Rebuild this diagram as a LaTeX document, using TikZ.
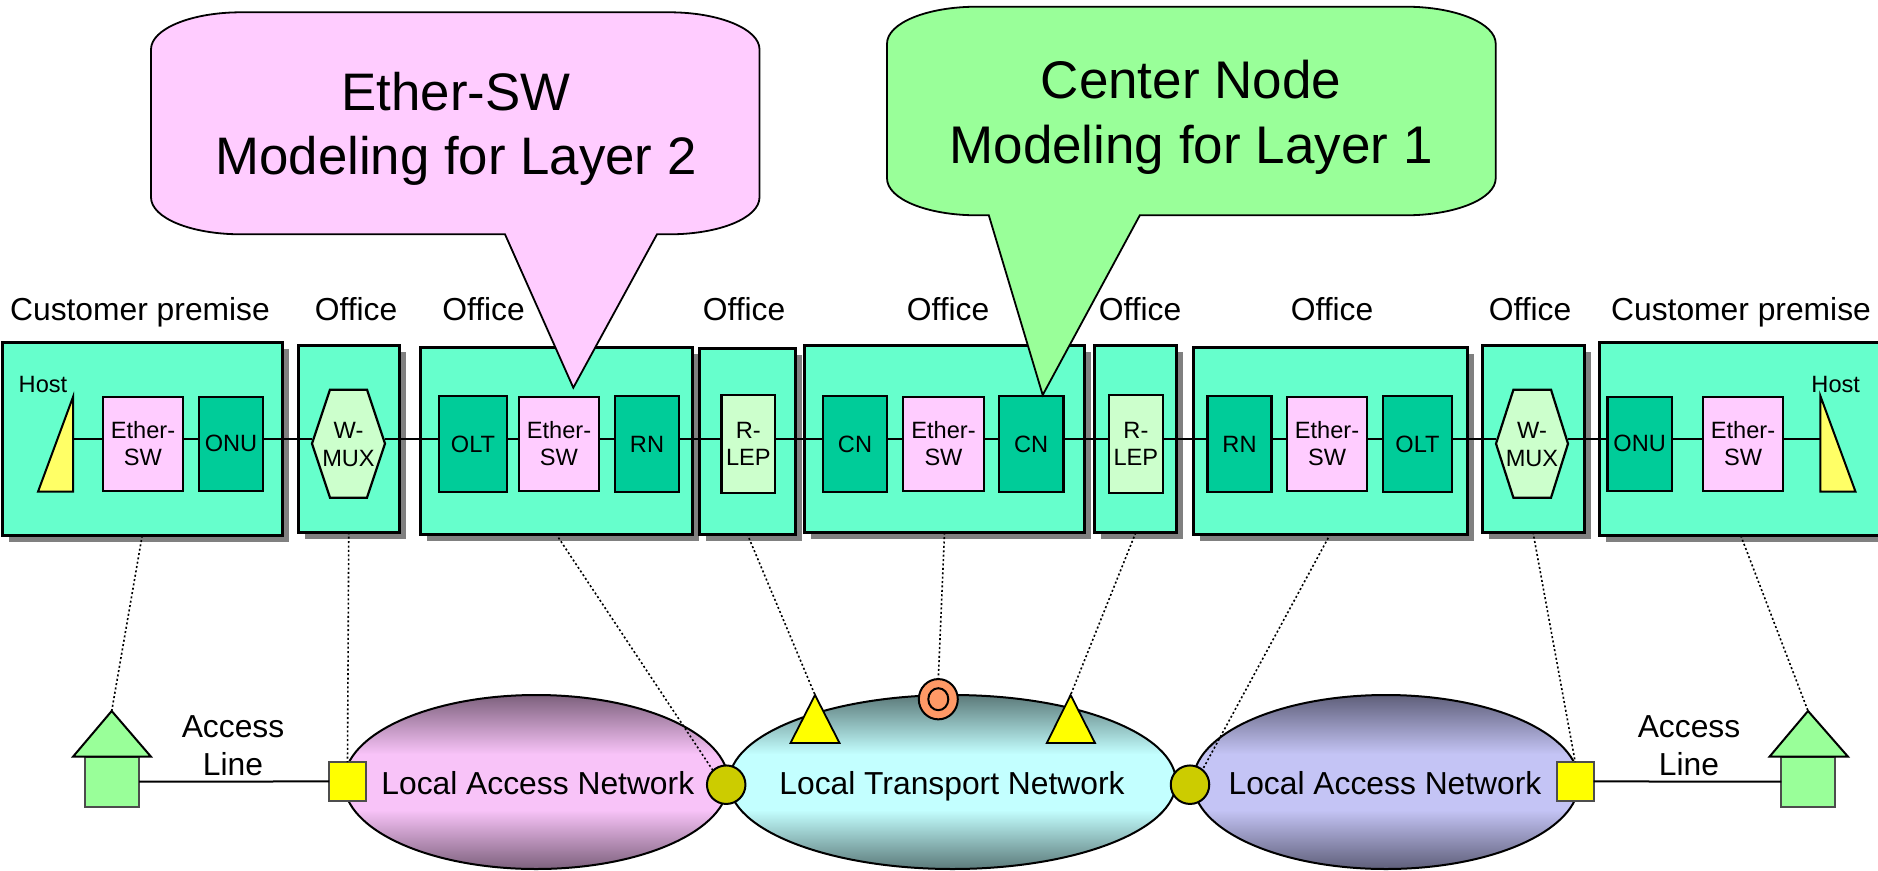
\documentclass[tikz,border=0pt]{standalone}
\usepackage{fontspec}
\setmainfont{Liberation Sans}
\usetikzlibrary{shapes.geometric,shadows}
\definecolor{boxc}{HTML}{66FFCC}
\definecolor{darkc}{HTML}{00CC99}
\definecolor{pinkc}{HTML}{FFCCFF}
\definecolor{lightg}{HTML}{CCFFCC}
\definecolor{hostc}{HTML}{FFFF66}
\definecolor{yelc}{HTML}{FFFF00}
\definecolor{housec}{HTML}{99FF99}
\definecolor{olivec}{HTML}{CCCC00}
\definecolor{orangec}{HTML}{FF9966}
\definecolor{shadc}{HTML}{808080}
\definecolor{nad}{RGB}{125,97,125}
\definecolor{nal}{RGB}{248,195,248}
\definecolor{nbd}{RGB}{92,122,122}
\definecolor{nbl}{RGB}{195,255,255}
\definecolor{ncd}{RGB}{95,95,122}
\definecolor{ncl}{RGB}{196,196,245}
\pgfdeclareverticalshading{nwa}{100bp}{color(0bp)=(nad); color(25bp)=(nad); color(42bp)=(nal); color(58bp)=(nal); color(75bp)=(nad); color(100bp)=(nad)}
\pgfdeclareverticalshading{nwb}{100bp}{color(0bp)=(nbd); color(25bp)=(nbd); color(42bp)=(nbl); color(58bp)=(nbl); color(75bp)=(nbd); color(100bp)=(nbd)}
\pgfdeclareverticalshading{nwc}{100bp}{color(0bp)=(ncd); color(25bp)=(ncd); color(42bp)=(ncl); color(58bp)=(ncl); color(75bp)=(ncd); color(100bp)=(ncd)}
\tikzset{
  officebox/.style={draw=black,line width=3pt,fill=boxc,inner sep=0pt,outer sep=0pt,
    drop shadow={shadow xshift=6.5pt,shadow yshift=-6.5pt,fill=shadc,opacity=1}},
  inbox/.style={draw=black,line width=2.2pt,inner sep=0pt,outer sep=0pt,align=center,
    font=\fontsize{23.6}{27.5}\selectfont,minimum height=96pt},
  ethersw/.style={inbox,fill=pinkc,minimum width=80pt,minimum height=93.7pt},
  darkbox/.style={inbox,fill=darkc},
  lepbox/.style={inbox,fill=lightg,minimum width=53.8pt,minimum height=97.7pt},
  hexshape/.style={draw=black,line width=2.2pt,fill=lightg,line join=miter},
  hextext/.style={inner sep=0pt,outer sep=0pt,align=center,font=\fontsize{23.6}{27.5}\selectfont,minimum width=73pt,minimum height=108pt},
  hostshape/.style={draw=black,line width=2pt,fill=hostc,line join=miter},
  hosttext/.style={inner sep=0pt,font=\fontsize{23.6}{27.5}\selectfont},
  label/.style={inner sep=0pt,font=\fontsize{31.8}{38}\selectfont,align=center},
  biglabel/.style={inner sep=0pt,font=\fontsize{52.8}{64}\selectfont,align=center},
  link/.style={draw=black,line width=2pt},
  dotline/.style={draw=black,line width=1.6pt,dash pattern=on 2pt off 2.4pt},
  callout/.style={draw=black,line width=1.8pt,line join=miter},
  net/.style={ellipse,draw=black,line width=2pt,inner sep=0pt,outer sep=0pt,minimum height=174pt},
  sqnode/.style={draw=shadc!60!black,line width=2pt,fill=yelc,inner sep=0pt,outer sep=0pt,minimum width=37pt,minimum height=38.7pt},
  roundnode/.style={circle,draw=black,line width=2pt,fill=olivec,inner sep=0pt,outer sep=0pt,minimum size=38.5pt},
  yeltri/.style={draw=black,line width=1.8pt,fill=yelc,line join=miter},
  housebody/.style={draw=black!70,line width=2pt,fill=housec,inner sep=0pt,outer sep=0pt},
  roof/.style={draw=black,line width=2pt,fill=housec,line join=miter},
  ring/.style={ellipse,draw=black,line width=2pt,inner sep=0pt,outer sep=0pt},
}
\newcommand{\lk}[2]{\draw[link] (#1.east |- hl) -- (#2.west |- hl);}
\begin{document}
\begin{tikzpicture}[x=1pt,y=-1pt]
\useasboundingbox (0,0) rectangle (1878,870);
\clip (0,0) rectangle (1878,870);
% office boxes
\node[officebox,minimum width=279.7pt,minimum height=193pt] (cp1) at (142.15,439.2) {};
\node[officebox,minimum width=101.5pt,minimum height=186.6pt] (o1) at (348.75,439) {};
\node[officebox,minimum width=272pt,minimum height=187pt] (o2) at (556,440.5) {};
\node[officebox,minimum width=96.5pt,minimum height=186pt] (o3) at (747.25,441) {};
\node[officebox,minimum width=280pt,minimum height=187pt] (o4) at (944.5,439.2) {};
\node[officebox,minimum width=81.8pt,minimum height=187pt] (o5) at (1135.7,439.2) {};
\node[officebox,minimum width=273.4pt,minimum height=187pt] (o6) at (1330.3,440.5) {};
\node[officebox,minimum width=102pt,minimum height=186.6pt] (o7) at (1533,439) {};
\node[officebox,minimum width=290.4pt,minimum height=193pt] (cp2) at (1744.8,439.2) {};
% labels
\node[label] (l1) at (140,312.5) {Customer premise};
\node[label] (l2) at (356,309) {Office};
\node[label] (l3) at (483.5,309) {Office};
\node[label] (l4) at (744,309) {Office};
\node[label] (l5) at (948,309) {Office};
\node[label] (l6) at (1140,309) {Office};
\node[label] (l7) at (1332,309) {Office};
\node[label] (l8) at (1530,309) {Office};
\node[label] (l9) at (1741,312.5) {Customer premise};
% hosts
\draw[hostshape] (73,397) -- (73,491.7) -- (38,491.7) -- cycle;
\coordinate (hl) at (73,439);
\node[hosttext] (hlt) at (43,384) {Host};
\draw[hostshape] (1820.4,396) -- (1820.4,491.7) -- (1855.5,491.7) -- cycle;
\coordinate (hr) at (1820.4,439);
\node[hosttext] (hrt) at (1835.7,384) {Host};
% hexagons
\draw[hexshape] (312,443.7) -- (330,389.7) -- (367,389.7) -- (385,443.7) -- (367,497.7) -- (330,497.7) -- cycle;
\node[hextext] (w1) at (348.5,444.7) {W-\\MUX};
\draw[hexshape] (1496,443.7) -- (1513.4,389.7) -- (1551,389.7) -- (1568,443.7) -- (1551,497.7) -- (1513.4,497.7) -- cycle;
\node[hextext,minimum width=72pt] (w2) at (1532,444.7) {W-\\MUX};
% inner boxes
\node[ethersw] (e1) at (143,443.8) {Ether-\\SW};
\node[darkbox,minimum width=64pt,minimum height=93.7pt] (onu1) at (231,443.8) {ONU};
\node[darkbox,minimum width=68pt] (olt1) at (473,444) {OLT};
\node[ethersw] (e2) at (559,443.8) {Ether-\\SW};
\node[darkbox,minimum width=64pt] (rn1) at (647,444) {RN};
\node[lepbox] (r1) at (748.4,443.8) {R-\\LEP};
\node[darkbox,minimum width=64pt] (cn1) at (855,444) {CN};
\node[ethersw,minimum width=80.3pt] (e3) at (943.5,443.8) {Ether-\\SW};
\node[darkbox,minimum width=64.5pt] (cn2) at (1031.2,444) {CN};
\node[lepbox] (r2) at (1135.9,443.8) {R-\\LEP};
\node[darkbox,minimum width=64pt] (rn2) at (1239.5,444) {RN};
\node[ethersw] (e4) at (1327,443.8) {Ether-\\SW};
\node[darkbox,minimum width=69pt] (olt2) at (1417.5,444) {OLT};
\node[darkbox,minimum width=64.1pt,minimum height=93.7pt] (onu2) at (1639.6,443.8) {ONU};
\node[ethersw] (e5) at (1743,443.8) {Ether-\\SW};
% connectors
\draw[link] (hl) -- (e1.west |- hl);
\lk{e1}{onu1}\lk{onu1}{w1}\lk{w1}{olt1}\lk{olt1}{e2}\lk{e2}{rn1}\lk{rn1}{r1}\lk{r1}{cn1}
\lk{cn1}{e3}\lk{e3}{cn2}\lk{cn2}{r2}\lk{r2}{rn2}\lk{rn2}{e4}\lk{e4}{olt2}\lk{olt2}{w2}\lk{w2}{onu2}\lk{onu2}{e5}
\draw[link] (e5.east |- hr) -- (hr);
% networks
\node[net,shading=nwa,minimum width=384.5pt] (n1) at (536.2,782) {};
\node[net,shading=nwb,minimum width=447pt] (n2) at (952.5,782) {};
\node[net,shading=nwc,minimum width=386pt] (n3) at (1386,782) {};
\node[label] (n1t) at (537.8,783) {Local Access Network};
\node[label] (n2t) at (952,786.5) {Local Transport Network};
\node[label] (n3t) at (1385,783) {Local Access Network};
% network markers
\node[sqnode] (s1) at (347.5,781.4) {};
\node[sqnode] (s2) at (1575.2,781.4) {};
\node[roundnode] (c1) at (726.2,784.7) {};
\node[roundnode] (c2) at (1190,784.7) {};
\node[ring,fill=orangec,minimum width=39pt,minimum height=40.3pt] (oc) at (938.3,699.2) {};
\node[ring,minimum width=20pt,minimum height=22pt] (oci) at (938.3,699.2) {};
\draw[yeltri] (815,695) -- (839.5,743) -- (790.5,743) -- cycle;
\coordinate (t1) at (815,695);
\draw[yeltri] (1070.6,695) -- (1095,743) -- (1046.8,743) -- cycle;
\coordinate (t2) at (1070.6,695);
% houses
\node[housebody,minimum width=54pt,minimum height=50pt] (h1) at (112,781.7) {};
\draw[roof] (111.7,711) -- (151,756.7) -- (73,756.7) -- cycle;
\coordinate (a1) at (111.7,711);
\node[housebody,minimum width=53.9pt,minimum height=50pt] (h2) at (1808.35,781.7) {};
\draw[roof] (1808,711) -- (1848,756.7) -- (1769.5,756.7) -- cycle;
\coordinate (a2) at (1808,711);
\draw[link] (h1.east) -- (s1.west);
\draw[link] (s2.east) -- (h2.west);
\node[label] (al1) at (233,746) {Access\\Line};
\node[label] (al2) at (1689,746) {Access\\Line};
% dotted relations
\draw[dotline] (cp1.south) -- (a1);
\draw[dotline] (o1.south) -- (s1.north);
\draw[dotline] (o2.south) -- (c1.133);
\draw[dotline] (o3.south) -- (t1);
\draw[dotline] (o4.south) -- (oc.north);
\draw[dotline] (o5.south) -- (t2);
\draw[dotline] (o6.south) -- (c2.50);
\draw[dotline] (o7.south) -- (s2.north);
\draw[dotline] ([xshift=-4pt]cp2.south) -- (a2);
% callouts
\draw[callout,fill=pinkc] (241,12.3) -- (669.5,12.3) .. controls (719,12.3) and (759.5,29) .. (759.5,49.3) -- (759.5,197.3) .. controls (759.5,218) and (719,234.3) .. (669.5,234.3) -- (657,234.3) -- (573.3,387.7) -- (505,234.3) -- (241,234.3) .. controls (191,234.3) and (151,218) .. (151,197.3) -- (151,49.3) .. controls (151,29) and (191,12.3) .. (241,12.3) -- cycle;
\node[biglabel] (ct1) at (456,129) {Ether-SW\\Modeling for Layer 2};
\draw[callout,fill=housec] (977,6.7) -- (1405.7,6.7) .. controls (1455,6.7) and (1495.7,23) .. (1495.7,43.7) -- (1495.7,178.3) .. controls (1495.7,199) and (1455,215.3) .. (1405.7,215.3) -- (1139.8,215.3) -- (1042.7,395) -- (988.8,215.3) -- (977,215.3) .. controls (927,215.3) and (887,199) .. (887,178.3) -- (887,43.7) .. controls (887,23) and (927,6.7) .. (977,6.7) -- cycle;
\node[biglabel,font=\fontsize{53}{65}\selectfont] (ct2) at (1191,117) {Center Node\\Modeling for Layer 1};
\end{tikzpicture}
\end{document}
